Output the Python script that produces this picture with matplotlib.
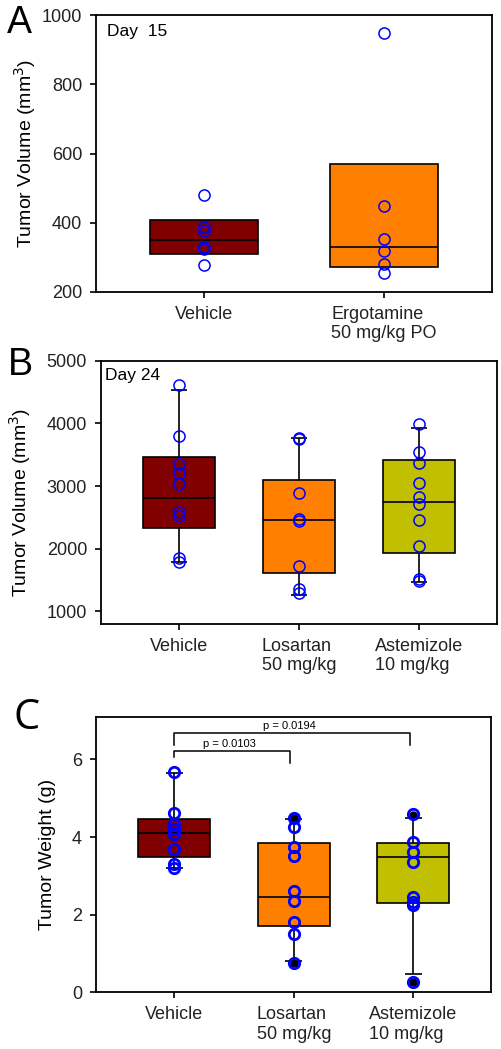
import matplotlib
matplotlib.use("Agg")
import matplotlib.pyplot as plt

plt.rcParams['font.family'] = ['Liberation Sans', 'DejaVu Sans']

# colours per group
box_colors = ['#800000', '#ff8000', '#c0c000']

# Panel A - day 15 tumor volume
a_groups = ['Vehicle', 'Ergotamine\n50 mg/kg PO']
a_q1 = [310, 271]
a_med = [350, 331]
a_q3 = [407, 570]
a_points = [[479, 389, 376, 329, 324, 278],
            [947, 448, 353, 319, 280, 254]]

# Panel B - day 24 tumor volume
b_groups = ['Vehicle', 'Losartan\n50 mg/kg', 'Astemizole\n10 mg/kg']
b_q1 = [2334, 1614, 1928]
b_med = [2803, 2462, 2750]
b_q3 = [3459, 3091, 3411]
b_lo = [1784, 1267, 1464]
b_hi = [4531, 3774, 3923]
b_points = [[4616, 3800, 3360, 3210, 3040, 2580, 2530, 1850, 1790],
            [3774, 3747, 2894, 2478, 2440, 1731, 1358, 1294],
            [3987, 3550, 3374, 3043, 2824, 2707, 2451, 2051, 1518, 1480]]

# Panel C - tumor weight
c_groups = ['Vehicle', 'Losartan\n50 mg/kg', 'Astemizole\n10 mg/kg']
c_q1 = [3.48, 1.72, 2.31]
c_med = [4.10, 2.46, 3.49]
c_q3 = [4.47, 3.84, 3.84]
c_lo = [3.19, 0.81, 0.47]
c_hi = [5.66, 4.47, 4.48]
c_points = [[5.67, 4.63, 4.34, 4.20, 4.07, 3.69, 3.30, 3.21],
            [4.49, 4.25, 3.75, 3.52, 2.61, 2.35, 1.80, 1.49, 0.75],
            [4.60, 3.86, 3.61, 3.35, 2.45, 2.32, 2.25, 0.27]]
c_outliers = [[], [4.49, 0.75], [4.57, 0.27]]

# significance brackets: (group i, group j, height, left drop, right drop, label)
c_sig = [(0, 1, 6.21, 6.06, 5.90, 'p = 0.0103'),
         (0, 2, 6.67, 6.37, 6.37, 'p = 0.0194')]

FS = 13
LFS = 14


def style_axis(ax):
    for s in ax.spines.values():
        s.set_linewidth(1.3)
    ax.tick_params(direction='out', length=4, width=1.2, pad=6, labelsize=FS,
                   top=False, right=False, colors='black', labelcolor='#222222')


def draw_boxes(ax, q1, med, q3, colors, lw=1.2):
    x = list(range(1, len(q1) + 1))
    heights = [b - a for a, b in zip(q1, q3)]
    ax.bar(x, heights, bottom=q1, width=0.6, color=colors, edgecolor='black',
           linewidth=lw, zorder=2)
    ax.hlines(med, [i - 0.3 for i in x], [i + 0.3 for i in x], color='black',
              linewidth=lw, zorder=3)


def draw_whiskers(ax, q1, q3, lo, hi, lw=1.2):
    x = list(range(1, len(q1) + 1))
    ax.vlines(x, lo, q1, color='black', linewidth=lw, zorder=1)
    ax.vlines(x, q3, hi, color='black', linewidth=lw, zorder=1)
    ax.hlines(lo, [i - 0.07 for i in x], [i + 0.07 for i in x], color='black',
              linewidth=lw, zorder=4)
    ax.hlines(hi, [i - 0.07 for i in x], [i + 0.07 for i in x], color='black',
              linewidth=lw, zorder=4)


def draw_points(ax, points, ms=8, mew=1.1):
    for i, vals in enumerate(points):
        ax.plot([i + 1] * len(vals), vals, 'o', ms=ms, mfc='none', mec='#0000ff',
                mew=mew, zorder=5)


fig = plt.figure(figsize=(5.02, 10.49), dpi=100)

# ---- A ----
axA = fig.add_axes([96 / 502, 1 - 292 / 1049, 396 / 502, 277 / 1049])
draw_boxes(axA, a_q1, a_med, a_q3, box_colors[:2])
draw_points(axA, a_points)
axA.set_xlim(0.4, 2.6)
axA.set_ylim(200, 1000)
axA.set_yticks([200, 400, 600, 800, 1000])
axA.set_xticks([1, 2])
axA.set_xticklabels(a_groups, multialignment='left')
style_axis(axA)
axA.text(0.028, 0.94, 'Day  15', transform=axA.transAxes, fontsize=12.5,
         ha='left', va='center')
axA.text(-0.179, 0.5, 'Tumor Volume (mm$^3$)', transform=axA.transAxes,
         rotation=90, ha='center', va='center', fontsize=LFS)
fig.text(7 / 502, 1 - 5 / 1049, 'A', fontsize=27, ha='left', va='top')

# ---- B ----
axB = fig.add_axes([101 / 502, 1 - 624 / 1049, 396 / 502, 263.3 / 1049])
draw_whiskers(axB, b_q1, b_q3, b_lo, b_hi)
draw_boxes(axB, b_q1, b_med, b_q3, box_colors)
draw_points(axB, b_points)
axB.set_xlim(0.35, 3.65)
axB.set_ylim(800, 5000)
axB.set_yticks([1000, 2000, 3000, 4000, 5000])
axB.set_xticks([1, 2, 3])
axB.set_xticklabels(b_groups, multialignment='left')
style_axis(axB)
axB.text(0.01, 0.943, 'Day 24', transform=axB.transAxes, fontsize=12.5,
         ha='left', va='center')
axB.text(-0.205, 0.46, 'Tumor Volume (mm$^3$)', transform=axB.transAxes,
         rotation=90, ha='center', va='center', fontsize=LFS)
fig.text(8 / 502, 1 - 347 / 1049, 'B', fontsize=27, ha='left', va='top')

# ---- C ----
axC = fig.add_axes([96 / 502, 1 - 992.3 / 1049, 395 / 502, 275.6 / 1049])
draw_whiskers(axC, c_q1, c_q3, c_lo, c_hi)
draw_boxes(axC, c_q1, c_med, c_q3, box_colors)
for i, vals in enumerate(c_outliers):
    axC.plot([i + 1] * len(vals), vals, 'o', ms=5, color='black', zorder=4)
draw_points(axC, c_points, ms=7.5, mew=2.0)
for i, j, h, dl, dr, label in c_sig:
    xi, xj = i + 1, j + 1 - 0.03
    axC.plot([xi, xi, xj, xj], [dl, h, h, dr], color='black', linewidth=1.1,
             zorder=3)
    axC.text((xi + xj) / 2 - 0.02, h + 0.05, label, fontsize=8, ha='center',
             va='bottom')
axC.set_xlim(0.345, 3.65)
axC.set_ylim(0, 7.1)
axC.set_yticks([0, 2, 4, 6])
axC.set_xticks([1, 2, 3])
axC.set_xticklabels(c_groups, multialignment='left')
style_axis(axC)
axC.text(-0.124, 0.5, 'Tumor Weight (g)', transform=axC.transAxes,
         rotation=90, ha='center', va='center', fontsize=LFS)
fig.text(13 / 502, 1 - 697 / 1049, 'C', fontsize=30, ha='left', va='top',
         family=['Open Sans', 'DejaVu Sans'])

fig.savefig('out.png', dpi=100)
